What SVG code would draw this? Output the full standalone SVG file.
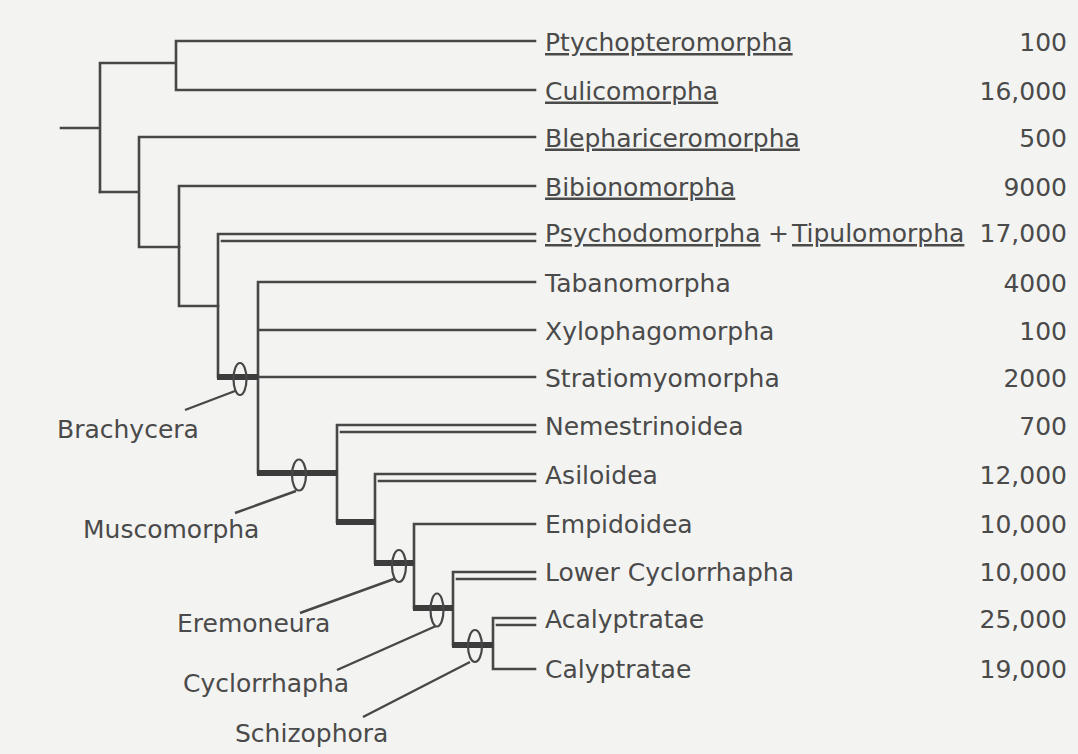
<svg xmlns="http://www.w3.org/2000/svg" width="1078" height="754" viewBox="0 0 1078 754">
<style>
.bg{fill:#f3f3f1}
.br{fill:none;stroke:#474747;stroke-width:2.6;stroke-linecap:square}
.thk{fill:none;stroke:#3c3c3c;stroke-width:6;stroke-linecap:butt}
.ring{fill:none;stroke:#474747;stroke-width:2.2}
.ld{fill:none;stroke:#474747;stroke-width:2.4}
.t{font-family:"DejaVu Sans","Liberation Sans",sans-serif;font-size:25px;fill:#4a4a4a}
.n{font-family:"DejaVu Sans","Liberation Sans",sans-serif;font-size:25px;fill:#4a4a4a;text-anchor:end}
.u{text-decoration:underline}
</style>
<rect class="bg" x="0" y="0" width="1078" height="754"/>
<g id="connectors">
  <path class="br" d="M61 128H100M100 63V192M100 63H176M176 41V90M176 41H535M176 90H535"/>
  <path class="br" d="M100 192H139M139 137V247M139 137H535M139 247H179"/>
  <path class="br" d="M179 186V306M179 186H535M179 306H218"/>
  <path class="br" d="M218 234V377M218 234H535M222 241H535"/>
  <path class="br" d="M258 282V473M258 282H535M258 330H535M258 377H535"/>
  <path class="br" d="M337 425V522M337 425H535M341 432H535"/>
  <path class="br" d="M375 474V563M375 474H535M379 481H535"/>
  <path class="br" d="M414 524V608M414 524H535"/>
  <path class="br" d="M453 572V645M453 572H535M457 579H535"/>
  <path class="br" d="M493 618V669M493 618H535M497 625H535M493 669H535"/>
  <path class="thk" d="M217 377H258M257 473H337M336 522H375M374 563H414M413 608H453M452 645H493"/>
</g>
<g id="brachycera">
  <ellipse class="ring" cx="240" cy="379" rx="6.5" ry="16"/>
  <path class="ld" d="M235 391L185 410"/>
  <text class="t" x="57" y="438">Brachycera</text>
</g>
<g id="muscomorpha">
  <ellipse class="ring" cx="299" cy="475" rx="7" ry="15.5"/>
  <path class="ld" d="M296 491L235 513"/>
  <text class="t" x="83" y="538">Muscomorpha</text>
</g>
<g id="eremoneura">
  <ellipse class="ring" cx="399" cy="566" rx="7" ry="16"/>
  <path class="ld" d="M394 579L300 613"/>
  <text class="t" x="177" y="632">Eremoneura</text>
</g>
<g id="cyclorrhapha">
  <ellipse class="ring" cx="437" cy="610" rx="6.5" ry="16.5"/>
  <path class="ld" d="M436 626L337 670"/>
  <text class="t" x="183" y="692">Cyclorrhapha</text>
</g>
<g id="schizophora">
  <ellipse class="ring" cx="475" cy="646" rx="7" ry="16"/>
  <path class="ld" d="M470 662L363 717"/>
  <text class="t" x="235" y="742">Schizophora</text>
</g>
<g id="ptychopteromorpha"><text class="t u" x="545" y="51">Ptychopteromorpha</text><text class="n" x="1067" y="51">100</text></g>
<g id="culicomorpha"><text class="t u" x="545" y="99.5">Culicomorpha</text><text class="n" x="1067" y="99.5">16,000</text></g>
<g id="blephariceromorpha"><text class="t u" x="545" y="146.5">Blephariceromorpha</text><text class="n" x="1067" y="146.5">500</text></g>
<g id="bibionomorpha"><text class="t u" x="545" y="195.5">Bibionomorpha</text><text class="n" x="1067" y="195.5">9000</text></g>
<g id="psychodomorpha-tipulomorpha"><text class="t" y="242"><tspan class="u" x="545">Psychodomorpha</tspan><tspan x="768">+</tspan><tspan class="u" x="792">Tipulomorpha</tspan></text><text class="n" x="1067" y="242">17,000</text></g>
<g id="tabanomorpha"><text class="t" x="545" y="291.5">Tabanomorpha</text><text class="n" x="1067" y="291.5">4000</text></g>
<g id="xylophagomorpha"><text class="t" x="545" y="339.5">Xylophagomorpha</text><text class="n" x="1067" y="339.5">100</text></g>
<g id="stratiomyomorpha"><text class="t" x="545" y="386.5">Stratiomyomorpha</text><text class="n" x="1067" y="386.5">2000</text></g>
<g id="nemestrinoidea"><text class="t" x="545" y="435">Nemestrinoidea</text><text class="n" x="1067" y="435">700</text></g>
<g id="asiloidea"><text class="t" x="545" y="483.5">Asiloidea</text><text class="n" x="1067" y="483.5">12,000</text></g>
<g id="empidoidea"><text class="t" x="545" y="532.5">Empidoidea</text><text class="n" x="1067" y="532.5">10,000</text></g>
<g id="lower-cyclorrhapha"><text class="t" x="545" y="581">Lower Cyclorrhapha</text><text class="n" x="1067" y="581">10,000</text></g>
<g id="acalyptratae"><text class="t" x="545" y="628">Acalyptratae</text><text class="n" x="1067" y="628">25,000</text></g>
<g id="calyptratae"><text class="t" x="545" y="678">Calyptratae</text><text class="n" x="1067" y="678">19,000</text></g>
</svg>
